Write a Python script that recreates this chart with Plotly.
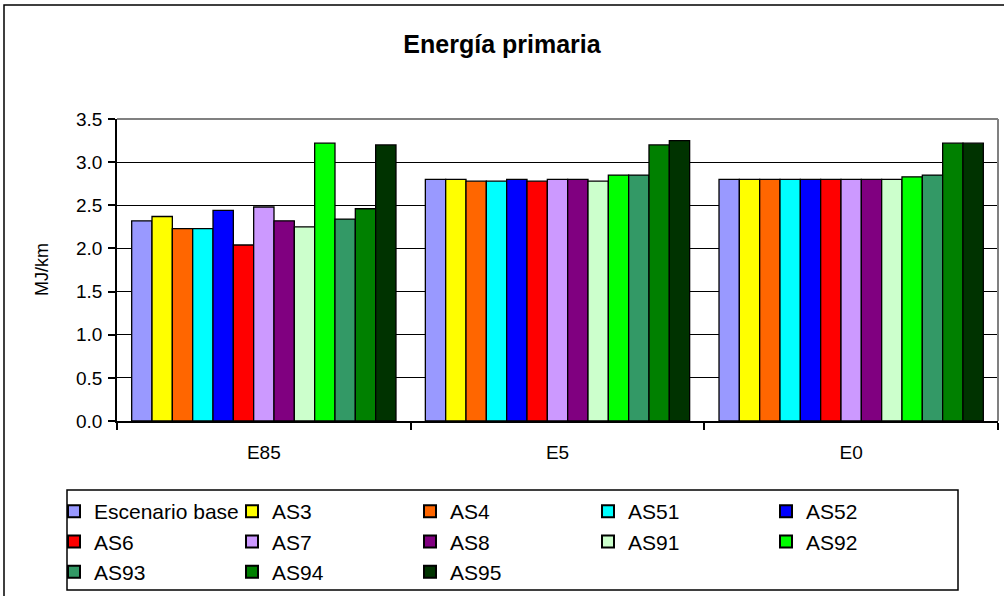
import plotly.graph_objects as go

# Fuel blends on the category axis
categories = ["E85", "E5", "E0"]

# Scenario names, in legend order
series_names = ["Escenario base", "AS3", "AS4", "AS51", "AS52", "AS6", "AS7",
                "AS8", "AS91", "AS92", "AS93", "AS94", "AS95"]

# Primary energy per scenario (MJ/km) for E85, E5, E0
escenario_base = [2.32, 2.80, 2.80]
as3 = [2.37, 2.80, 2.80]
as4 = [2.23, 2.78, 2.80]
as51 = [2.23, 2.78, 2.80]
as52 = [2.44, 2.80, 2.80]
as6 = [2.04, 2.78, 2.80]
as7 = [2.48, 2.80, 2.80]
as8 = [2.32, 2.80, 2.80]
as91 = [2.25, 2.78, 2.80]
as92 = [3.22, 2.85, 2.83]
as93 = [2.34, 2.85, 2.85]
as94 = [2.46, 3.20, 3.22]
as95 = [3.20, 3.25, 3.22]

series_values = [escenario_base, as3, as4, as51, as52, as6, as7, as8,
                 as91, as92, as93, as94, as95]

series_colors = ["#9999FF", "#FFFF00", "#FF6600", "#00FFFF", "#0000FF",
                 "#FF0000", "#CC99FF", "#800080", "#CCFFCC", "#00FF00",
                 "#339966", "#008000", "#003300"]

y_ticks = [0.0, 0.5, 1.0, 1.5, 2.0, 2.5, 3.0, 3.5]

FONT = "Liberation Sans, Arial, sans-serif"

W, H = 1004, 596
L, R, T, B = 117, 6, 119, 175
PW, PH = W - L - R, H - T - B


def px_x(x):
    """Page x pixel -> paper coordinate."""
    return (x - L) / PW


def px_y(y):
    """Page y pixel -> paper coordinate."""
    return (H - B - y) / PH


fig = go.Figure()
for name, vals, color in zip(series_names, series_values, series_colors):
    fig.add_trace(go.Bar(
        name=name, x=categories, y=vals,
        marker=dict(color=color, line=dict(color="black", width=1.3)),
    ))

fig.update_layout(
    width=W, height=H,
    margin=dict(l=L, r=R, t=T, b=B, autoexpand=False),
    paper_bgcolor="white", plot_bgcolor="white",
    barmode="group", bargap=0.1, bargroupgap=0,
    font=dict(family=FONT, color="black", size=19),
    title=dict(text="<b>Energía primaria</b>", x=0.5, xref="container",
               y=0.925, yref="container", yanchor="middle",
               font=dict(family=FONT, size=25, color="black")),
    showlegend=True,
    legend=dict(orientation="h", x=px_x(54), y=px_y(491), xanchor="left",
                yanchor="top", borderwidth=0, bgcolor="rgba(0,0,0,0)",
                entrywidth=133, entrywidthmode="pixels",
                font=dict(family=FONT, size=21, color="black"),
                traceorder="normal", itemsizing="constant",
                tracegroupgap=0),
)

fig.update_yaxes(
    range=[0, 3.5], tickvals=y_ticks, tickformat=".1f",
    showgrid=True, gridcolor="black", gridwidth=1,
    showline=True, linecolor="black", linewidth=1.5,
    ticks="outside", ticklen=7, tickcolor="black", tickwidth=1.5,
    ticklabelstandoff=2, zeroline=False, fixedrange=True,
)
fig.update_xaxes(
    showline=True, linecolor="black", linewidth=1.5,
    ticks="outside", tickson="boundaries", ticklen=7,
    tickcolor="black", tickwidth=1.5, showgrid=False,
    ticklabelstandoff=13,
)

# Plot-area frame (gray on top and right)
fig.add_shape(type="line", xref="paper", yref="paper", x0=0, x1=1, y0=1, y1=1,
              line=dict(color="#808080", width=2))
fig.add_shape(type="line", xref="paper", yref="paper", x0=1, x1=1, y0=0, y1=1,
              line=dict(color="#808080", width=2))
# Outer chart border
fig.add_shape(type="rect", xref="paper", yref="paper",
              x0=px_x(4), x1=px_x(1010), y0=px_y(640), y1=px_y(5),
              line=dict(color="black", width=1.5), layer="below")
# Legend box
fig.add_shape(type="rect", xref="paper", yref="paper",
              x0=px_x(67), x1=px_x(958), y0=px_y(590), y1=px_y(490),
              line=dict(color="black", width=1.5), fillcolor="white",
              layer="below")

fig.add_annotation(text="MJ/km", xref="paper", yref="paper",
                   x=px_x(42), y=0.5, xanchor="center", yanchor="middle",
                   textangle=-90, showarrow=False,
                   font=dict(family=FONT, size=18, color="black"))

fig.write_html("out.html")
